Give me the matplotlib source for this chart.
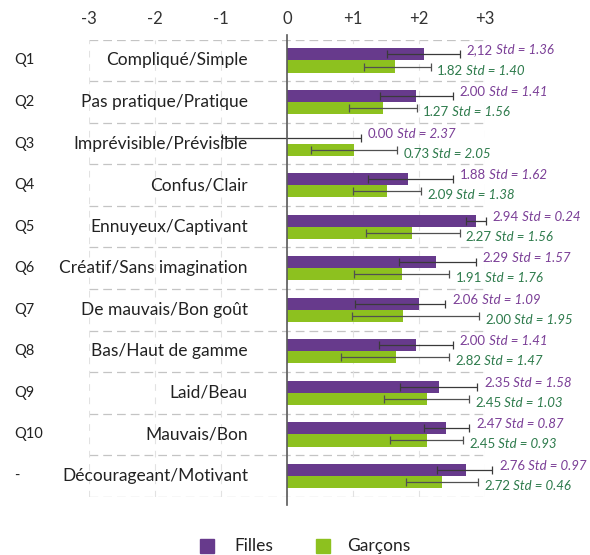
import matplotlib
matplotlib.use("Agg")
import matplotlib.pyplot as plt
from matplotlib import font_manager
from matplotlib.patches import Rectangle
import numpy as np

# --- data ---
codes = ["Q1", "Q2", "Q3", "Q4", "Q5", "Q6", "Q7", "Q8", "Q9", "Q10", "-"]
items = ["Compliqué/Simple", "Pas pratique/Pratique", "Imprévisible/Prévisible",
         "Confus/Clair", "Ennuyeux/Captivant", "Créatif/Sans imagination",
         "De mauvais/Bon goût", "Bas/Haut de gamme", "Laid/Beau",
         "Mauvais/Bon", "Décourageant/Motivant"]

# bar lengths as drawn
filles = [2.08, 1.96, 0.0, 1.84, 2.87, 2.25, 2.00, 1.95, 2.30, 2.41, 2.71]
garcons = [1.64, 1.46, 1.02, 1.51, 1.90, 1.74, 1.76, 1.65, 2.12, 2.12, 2.35]

# error bar ends as drawn
filles_lo = [1.51, 1.41, -0.99, 1.22, 2.71, 1.69, 1.03, 1.40, 1.71, 2.07, 2.28]
filles_hi = [2.62, 2.51, 1.12, 2.51, 3.01, 2.86, 2.40, 2.51, 2.88, 2.76, 3.11]
garcons_lo = [1.16, 0.94, 0.37, 1.00, 1.19, 1.02, 0.98, 0.82, 1.47, 1.56, 1.80]
garcons_hi = [2.18, 1.97, 1.67, 2.03, 2.62, 2.46, 2.91, 2.46, 2.76, 2.67, 2.90]

# printed labels
filles_mean = ["2,12", "2.00", "0.00", "1.88", "2.94", "2.29", "2.06", "2.00", "2.35", "2.47", "2.76"]
filles_std = ["1.36", "1.41", "2.37", "1.62", "0.24", "1.57", "1.09", "1.41", "1.58", "0.87", "0.97"]
garcons_mean = ["1.82", "1.27", "0.73", "2.09", "2.27", "1.91", "2.00", "2.82", "2.45", "2.45", "2.72"]
garcons_std = ["1.40", "1.56", "2.05", "1.38", "1.56", "1.76", "1.95", "1.47", "1.03", "0.93", "0.46"]

xticks = [-3, -2, -1, 0, 1, 2, 3]
xticklabels = ["-3", "-2", "-1", "0", "+1", "+2", "+3"]

# --- fonts ---
def pick(names):
    for n in names:
        try:
            font_manager.findfont(font_manager.FontProperties(family=n), fallback_to_default=False)
            return n
        except Exception:
            pass
    return "DejaVu Sans"

main_font = pick(["Lato", "Open Sans", "Noto Sans"])
narrow_font = pick(["Liberation Sans Narrow", "Lato"])
plt.rcParams["font.family"] = [main_font, "DejaVu Sans"]

purple = "#673a8c"
green = "#8dc11f"
purple_txt = "#7b3f97"
green_txt = "#2e7b4c"
grid_c = "#c4c4c4"

fig = plt.figure(figsize=(5.9, 5.55), dpi=100)
ax = fig.add_axes([89 / 590, 1 - 496.8 / 555, 396 / 590, 457.1 / 555])

y = np.arange(len(items))
h = 0.29

ax.barh(y - h / 2, filles, height=h, color=purple, zorder=3)
ax.barh(y + h / 2, garcons, height=h, color=green, zorder=3)

f_lo, f_hi = np.array(filles_lo), np.array(filles_hi)
g_lo, g_hi = np.array(garcons_lo), np.array(garcons_hi)
eb = ax.errorbar((f_lo + f_hi) / 2, y - h / 2, xerr=(f_hi - f_lo) / 2, fmt="none",
                 ecolor="#3a3a3a", elinewidth=0.9, capsize=2.8, capthick=0.9, zorder=4)
eb2 = ax.errorbar((g_lo + g_hi) / 2, y + h / 2, xerr=(g_hi - g_lo) / 2, fmt="none",
                  ecolor="#505050", elinewidth=0.9, capsize=2.8, capthick=0.9, zorder=4)
for c in (eb, eb2):
    for art in c.lines[1] + c.lines[2]:
        art.set_clip_on(False)

# labels: upright mean then italic "Std = .."
for i in range(len(items)):
    t = ax.annotate(filles_mean[i], xy=(f_hi[i], y[i] - h / 2), xytext=(7, 4),
                    textcoords="offset pixels", va="center", ha="left",
                    fontsize=9.5, color=purple_txt, family=narrow_font, zorder=5,
                    annotation_clip=False)
    ax.annotate(" Std = " + filles_std[i], xy=(1, 0.5), xycoords=t, va="center",
                ha="left", fontsize=9.5, color=purple_txt, style="italic",
                family=narrow_font, annotation_clip=False)
    t = ax.annotate(garcons_mean[i], xy=(g_hi[i], y[i] + h / 2), xytext=(6, -4),
                    textcoords="offset pixels", va="center", ha="left",
                    fontsize=9.5, color=green_txt, family=narrow_font, zorder=5,
                    annotation_clip=False)
    ax.annotate(" Std = " + garcons_std[i], xy=(1, 0.5), xycoords=t, va="center",
                ha="left", fontsize=9.5, color=green_txt, style="italic",
                family=narrow_font, annotation_clip=False)

# dashed grid
for b in np.arange(-0.5, len(items), 1.0):
    ax.axhline(b, color=grid_c, lw=0.9, ls=(0, (7, 4)), zorder=1)
for xv in xticks:
    ax.axvline(xv, color="#e2e2e2", lw=0.8, ls=(0, (6, 6)), zorder=1)

# zero axis
ax.plot([0, 0], [-0.62, len(items) - 0.3], color="#5a5a5a", lw=1.2,
        clip_on=False, zorder=6)

ax.set_xlim(-3, 3)
ax.set_ylim(len(items) - 0.5, -0.5)
ax.xaxis.tick_top()
ax.set_xticks(xticks)
ax.set_xticklabels(xticklabels, fontsize=12, color="#333333")
ax.tick_params(axis="x", length=0, pad=9)
ax.set_yticks([])
for s in ax.spines.values():
    s.set_visible(False)

for i in range(len(items)):
    ax.text(0.4015, i, items[i], transform=ax.get_yaxis_transform(),
            ha="right", va="center", fontsize=12.5, color="#222222", zorder=5)
    ax.text(-0.189, i, codes[i], transform=ax.get_yaxis_transform(),
            ha="left", va="center", fontsize=10.5, color="#222222")

# legend
fig.add_artist(Rectangle((200 / 590, 1 - 553 / 555), 14 / 590, 14 / 555,
                         transform=fig.transFigure, color=purple))
fig.text(234 / 590, 1 - 546 / 555, "Filles", ha="left", va="center",
         fontsize=12.5, color="#222222")
fig.add_artist(Rectangle((316 / 590, 1 - 553 / 555), 14 / 590, 14 / 555,
                         transform=fig.transFigure, color=green))
fig.text(347 / 590, 1 - 546 / 555, "Garçons", ha="left", va="center",
         fontsize=12.5, color="#222222")

fig.savefig("out.png", dpi=100)
